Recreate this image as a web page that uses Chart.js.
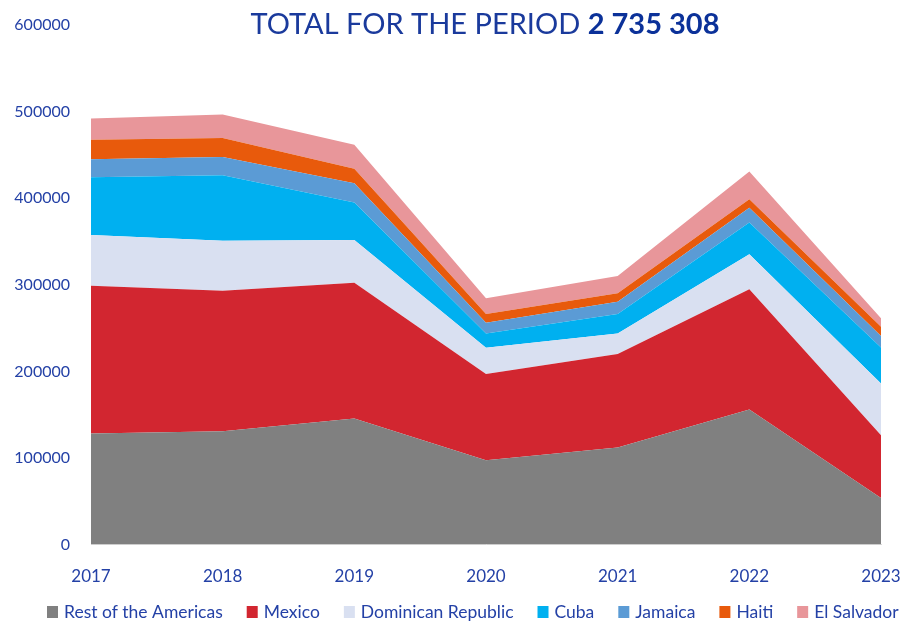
<!DOCTYPE html>
<html>
<head>
<meta charset="utf-8">
<script src="https://cdn.jsdelivr.net/npm/chart.js@4/dist/chart.umd.min.js"></script>
<style>
html,body{margin:0;padding:0;background:#fff;}
#wrap{width:903px;height:626px;}
</style>
</head>
<body>
<div id="wrap"><canvas id="c" width="903" height="626"></canvas></div>
<script>
const years = ['2017','2018','2019','2020','2021','2022','2023'];
const restOfAmericas = [128300, 131000, 145700, 97500, 112100, 156000, 53900];
const mexico = [170700, 162200, 156700, 99400, 107900, 138800, 72500];
const dominicanRepublic = [58600, 57800, 49400, 30400, 23900, 40500, 59700];
const cuba = [66700, 75600, 43100, 16600, 22300, 36500, 41600];
const jamaica = [20700, 21100, 22400, 12300, 14300, 17300, 13100];
const haiti = [22400, 21700, 16600, 10000, 9700, 9700, 10800];
const elSalvador = [24600, 27200, 27700, 18200, 20000, 32000, 9700];
const yTicks = [0, 100000, 200000, 300000, 400000, 500000, 600000];
const titleText = 'TOTAL FOR THE PERIOD ';
const titleNumber = '2 735 308';

const seriesNames = ['Rest of the Americas','Mexico','Dominican Republic','Cuba','Jamaica','Haiti','El Salvador'];
const seriesData = [restOfAmericas, mexico, dominicanRepublic, cuba, jamaica, haiti, elSalvador];
const seriesColors = ['#808080','#D22630','#D9E0F1','#00B0F0','#5B9BD5','#E85A0C','#E8969A'];

const TEXT = '#2441A6';
const FONT = 'Lato';

const titlePlugin = {
  id: 'titlePlugin',
  afterDraw(chart) {
    const ctx = chart.ctx;
    ctx.save();
    ctx.textBaseline = 'alphabetic';
    ctx.font = '29px ' + FONT;
    const w1 = ctx.measureText(titleText).width;
    ctx.font = 'bold 29px ' + FONT;
    const w2 = ctx.measureText(titleNumber).width;
    const x0 = 485 - (w1 + w2) / 2;
    ctx.fillStyle = '#1A3A9C';
    ctx.font = '29px ' + FONT;
    ctx.fillText(titleText, x0, 34);
    ctx.fillStyle = '#0B3199';
    ctx.font = 'bold 29px ' + FONT;
    ctx.fillText(titleNumber, x0 + w1, 34);
    ctx.restore();
  }
};

const legendPlugin = {
  id: 'customLegend',
  afterDraw(chart) {
    const ctx = chart.ctx;
    ctx.save();
    ctx.font = '17.5px ' + FONT;
    ctx.textBaseline = 'middle';
    const box = 11, gapBox = 6, gapItem = 24;
    let x = 47;
    const cy = 612;
    chart.data.datasets.forEach(d => {
      const w = ctx.measureText(d.label).width;
      ctx.fillStyle = d.backgroundColor;
      ctx.fillRect(x, cy - 6, box, 12);
      ctx.fillStyle = TEXT;
      ctx.fillText(d.label, x + box + gapBox, cy);
      x += box + gapBox + w + gapItem;
    });
    ctx.restore();
  }
};

new Chart(document.getElementById('c'), {
  type: 'line',
  data: {
    labels: years,
    datasets: seriesNames.map((n, i) => ({
      label: n,
      data: seriesData[i],
      backgroundColor: seriesColors[i],
      borderColor: seriesColors[i],
      borderWidth: 0,
      pointRadius: 0,
      tension: 0,
      fill: i === 0 ? 'origin' : '-1'
    }))
  },
  options: {
    responsive: false,
    animation: false,
    layout: { padding: { left: 8, right: 22, top: 25, bottom: 17 } },
    plugins: {
      legend: { display: false },
      tooltip: { enabled: false }
    },
    scales: {
      x: {
        offset: false,
        afterFit(axis) { axis.paddingLeft = 0; axis.paddingRight = 0; },
        grid: { display: false, drawTicks: false },
        border: { display: true, color: '#D9D9D9' },
        ticks: { color: TEXT, font: { family: FONT, size: 17 }, padding: 22, maxRotation: 0, autoSkip: false }
      },
      y: {
        stacked: true,
        min: 0, max: 600000,
        afterBuildTicks(axis) { axis.ticks = yTicks.map(v => ({ value: v })); },
        afterFit(axis) { axis.width = 83; axis.paddingTop = 0; axis.paddingBottom = 0; },
        grid: { display: false, drawTicks: false },
        border: { display: false },
        ticks: { color: TEXT, font: { family: FONT, size: 16 }, padding: 21, callback: v => String(v) }
      }
    }
  },
  plugins: [titlePlugin, legendPlugin]
});
</script>
</body>
</html>
